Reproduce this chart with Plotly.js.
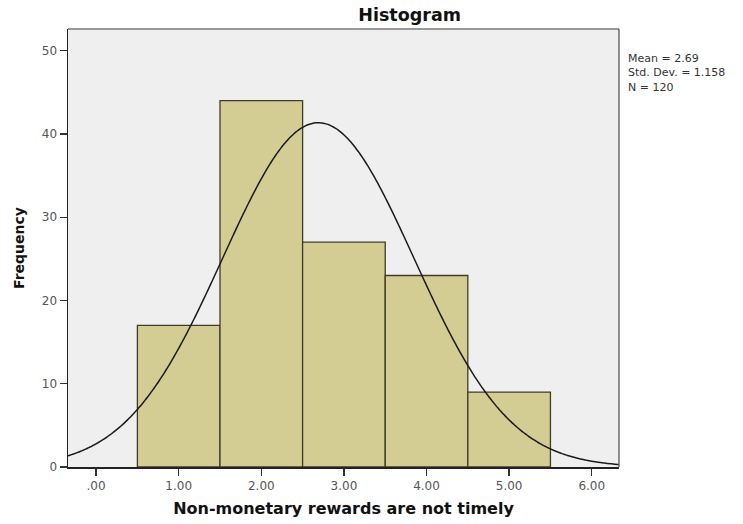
<!DOCTYPE html>
<html>
<head>
<meta charset="utf-8">
<script src="https://cdn.plot.ly/plotly-3.0.1.min.js"></script>
<style>html,body{margin:0;padding:0;background:#fff;}#chart{width:743px;height:524px;}</style>
</head>
<body>
<div id="chart"></div>
<script>
// Data
const binCenters = [1, 2, 3, 4, 5];
const frequencies = [17, 44, 27, 23, 9];
const tickValues = [0, 1, 2, 3, 4, 5, 6];
const tickLabels = [".00", "1.00", "2.00", "3.00", "4.00", "5.00", "6.00"];
const yTickValues = [0, 10, 20, 30, 40, 50];
const statMean = 2.69;
const statSD = 1.158;
const statN = 120;
const binWidth = 1;

// Fitted normal curve from the displayed statistics
const xMin = -0.34, xMax = 6.33;
const curveX = [], curveY = [];
for (let i = 0; i <= 300; i++) {
  const x = xMin + (xMax - xMin) * i / 300;
  const z = (x - statMean) / statSD;
  curveX.push(x);
  curveY.push(statN * binWidth * Math.exp(-0.5 * z * z) / (statSD * Math.sqrt(2 * Math.PI)));
}

const traces = [
  {
    type: 'bar', x: binCenters, y: frequencies, width: 1,
    marker: {color: '#D3CD94', line: {color: '#3F3C28', width: 1.3}},
    hoverinfo: 'x+y', showlegend: false
  },
  {
    type: 'scatter', mode: 'lines', x: curveX, y: curveY,
    line: {color: '#1a1a1a', width: 1.5, shape: 'spline'},
    hoverinfo: 'skip', showlegend: false
  }
];

const layout = {
  width: 743, height: 524,
  margin: {l: 68, r: 124, t: 29, b: 57},
  paper_bgcolor: '#ffffff',
  plot_bgcolor: '#EFEFEF',
  bargap: 0,
  title: {text: '<b>Histogram</b>', font: {family: 'DejaVu Sans, Verdana', size: 17.5, color: '#111'},
          xref: 'paper', x: 0.62, xanchor: 'center', yref: 'container', y: 0.971, yanchor: 'middle'},
  xaxis: {
    range: [xMin, xMax], tickvals: tickValues, ticktext: tickLabels,
    ticks: 'outside', ticklen: 7, tickwidth: 1.3, tickcolor: '#333',
    showgrid: false, zeroline: false,
    showline: true, linecolor: '#222', linewidth: 1.5, mirror: false,
    tickfont: {family: 'DejaVu Sans, Verdana', size: 12, color: '#555'},
    title: {text: '<b>Non-monetary rewards are not timely</b>', standoff: 11,
            font: {family: 'DejaVu Sans, Verdana', size: 16, color: '#111'}}
  },
  yaxis: {
    range: [0, 52.6], tickvals: yTickValues,
    ticks: 'outside', ticklen: 7, tickwidth: 1.3, tickcolor: '#333',
    showgrid: false, zeroline: false,
    showline: true, linecolor: '#222', linewidth: 1.5,
    tickfont: {family: 'DejaVu Sans, Verdana', size: 12, color: '#555'},
    title: {text: '<b>Frequency</b>', standoff: 14,
            font: {family: 'DejaVu Sans, Verdana', size: 14, color: '#111'}}
  },
  shapes: [
    {type: 'line', xref: 'paper', yref: 'paper', x0: 0, x1: 1, y0: 1, y1: 1,
     line: {color: '#999', width: 2}},
    {type: 'line', xref: 'paper', yref: 'paper', x0: 1, x1: 1, y0: 0, y1: 1,
     line: {color: '#555', width: 1.3}}
  ],
  annotations: [
    {xref: 'paper', yref: 'paper', x: 1.013, y: 0.952, xanchor: 'left', yanchor: 'top',
     align: 'left', showarrow: false,
     text: 'Mean = ' + statMean + '<br>Std. Dev. = ' + statSD.toFixed(3) + '<br>N = ' + statN,
     font: {family: 'DejaVu Sans, Verdana', size: 11, color: '#333'}}
  ]
};

Plotly.newPlot('chart', traces, layout, {displayModeBar: false, staticPlot: true});
</script>
</body>
</html>
